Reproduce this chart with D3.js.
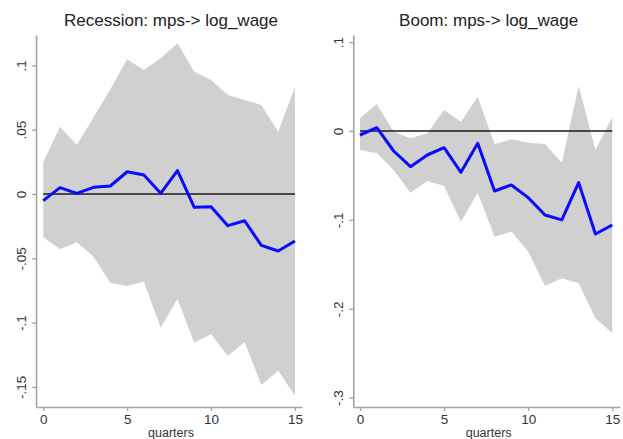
<!DOCTYPE html>
<html>
<head>
<meta charset="utf-8">
<script src="https://cdn.jsdelivr.net/npm/d3@7"></script>
<style>
	body { margin: 0; background: #fff; }
	svg { font-family: "Liberation Sans", Arial, sans-serif; }
</style>
</head>
<body>
<svg id="chart" width="623" height="439"></svg>
<script>
//Data
const QUARTERS = [0, 1, 2, 3, 4, 5, 6, 7, 8, 9, 10, 11, 12, 13, 14, 15];
const X_TICKS = [0, 5, 10, 15];

const REC_IRF = [-0.0052, 0.0049, 0.0005, 0.0052, 0.0062, 0.0173, 0.0148, 0.0005, 0.0181, -0.0104, -0.0099, -0.0246, -0.0208, -0.0400, -0.0443, -0.0365];
const REC_UPPER = [0.0246, 0.0523, 0.0381, 0.0596, 0.0814, 0.1047, 0.0964, 0.1055, 0.1171, 0.0951, 0.0886, 0.0770, 0.0731, 0.0692, 0.0484, 0.0830];
const REC_LOWER = [-0.0337, -0.0430, -0.0376, -0.0487, -0.0690, -0.0715, -0.0682, -0.1039, -0.0816, -0.1156, -0.1089, -0.1257, -0.1153, -0.1485, -0.1374, -0.1568];
const REC_Y_TICKS = [0.1, 0.05, 0, -0.05, -0.1, -0.15];
const REC_Y_LABELS = [".1", ".05", "0", "-.05", "-.1", "-.15"];

const BOOM_IRF = [-0.0045, 0.0037, -0.0225, -0.0401, -0.0270, -0.0188, -0.0465, -0.0139, -0.0675, -0.0607, -0.0750, -0.0945, -0.1000, -0.0581, -0.1159, -0.1057];
const BOOM_UPPER = [0.0143, 0.0304, -0.0008, -0.0082, -0.0026, 0.0236, 0.0105, 0.0386, -0.0150, -0.0093, -0.0131, -0.0146, -0.0356, 0.0506, -0.0214, 0.0154];
const BOOM_LOWER = [-0.0214, -0.0251, -0.0439, -0.0694, -0.0562, -0.0619, -0.1020, -0.0694, -0.1189, -0.1132, -0.1357, -0.1744, -0.1657, -0.1713, -0.2107, -0.2276];
const BOOM_Y_TICKS = [0.1, 0, -0.1, -0.2, -0.3];
const BOOM_Y_LABELS = [".1", "0", "-.1", "-.2", "-.3"];

const AXIS_COLOR = "#a3a3a3";
const BAND_COLOR = "#d0d0d0";
const LINE_COLOR = "#0a0aff";

//Methods
function make_rows(irf, upper, lower) {
	return QUARTERS.map((q, i) => ({ q: q, irf: irf[i], hi: upper[i], lo: lower[i] }));
}

function drawPanel(svg, opts) {
	const data = make_rows(opts.irf, opts.upper, opts.lower);
	const g = svg.append("g");

	var xScale = d3.scaleLinear().domain(opts.xDomain).range([opts.left, opts.right]);
	var yScale = d3.scaleLinear().domain(opts.yDomain).range([opts.bottom, opts.top]);

	// confidence band
	g.append("path")
		.datum(data)
		.attr("fill", BAND_COLOR)
		.attr("d", d3.area()
			.x(d => xScale(d.q))
			.y0(d => yScale(d.lo))
			.y1(d => yScale(d.hi)));

	// zero line
	g.append("line")
		.attr("x1", xScale(QUARTERS[0]))
		.attr("x2", xScale(QUARTERS[QUARTERS.length - 1]))
		.attr("y1", yScale(0))
		.attr("y2", yScale(0))
		.attr("stroke", "#1a1a1a")
		.attr("stroke-width", 1.3);

	// irf line
	g.append("path")
		.datum(data)
		.attr("fill", "none")
		.attr("stroke", LINE_COLOR)
		.attr("stroke-width", 3)
		.attr("stroke-linejoin", "round")
		.attr("d", d3.line().x(d => xScale(d.q)).y(d => yScale(d.irf)));

	// y axis
	var yAxis = g.append("g")
		.attr("transform", "translate(" + opts.left + ",0)")
		.call(d3.axisLeft(yScale).tickValues(opts.yTicks).tickSize(4).tickSizeOuter(0)
			.tickFormat((d, i) => opts.yLabels[i]));
	yAxis.select(".domain").attr("stroke", AXIS_COLOR).attr("stroke-width", 1.6);
	yAxis.selectAll(".tick line").attr("stroke", AXIS_COLOR).attr("stroke-width", 1.3);
	yAxis.selectAll(".tick text")
		.attr("x", null).attr("dy", null)
		.attr("transform", "translate(-10.5,0) rotate(-90)")
		.attr("text-anchor", "middle")
		.attr("font-size", "13.5px")
		.attr("fill", "#333");

	// x axis
	var xAxis = g.append("g")
		.attr("transform", "translate(0," + opts.bottom + ")")
		.call(d3.axisBottom(xScale).tickValues(X_TICKS).tickSize(4).tickSizeOuter(0));
	xAxis.select(".domain").attr("stroke", AXIS_COLOR).attr("stroke-width", 1.6);
	xAxis.selectAll(".tick line").attr("stroke", AXIS_COLOR).attr("stroke-width", 1.3);
	xAxis.selectAll(".tick text")
		.attr("y", 7)
		.attr("font-size", "13.5px")
		.attr("fill", "#333");

	// title and axis label
	var cx = (opts.left + opts.right) / 2 + 2;
	g.append("text")
		.attr("x", cx)
		.attr("y", 26)
		.attr("text-anchor", "middle")
		.attr("font-size", "17px")
		.attr("fill", "#222")
		.text(opts.title);

	g.append("text")
		.attr("x", cx)
		.attr("y", 437)
		.attr("text-anchor", "middle")
		.attr("font-size", "12.5px")
		.attr("fill", "#333")
		.text("quarters");
}

const svg = d3.select("#chart");

drawPanel(svg, {
	title: "Recession: mps-> log_wage",
	irf: REC_IRF, upper: REC_UPPER, lower: REC_LOWER,
	yTicks: REC_Y_TICKS, yLabels: REC_Y_LABELS,
	xDomain: [-0.43, 15.42], yDomain: [-0.1656, 0.1236],
	left: 36, right: 302, top: 35, bottom: 407
});

drawPanel(svg, {
	title: "Boom: mps-> log_wage",
	irf: BOOM_IRF, upper: BOOM_UPPER, lower: BOOM_LOWER,
	yTicks: BOOM_Y_TICKS, yLabels: BOOM_Y_LABELS,
	xDomain: [-0.40, 15.46], yDomain: [-0.3105, 0.108],
	left: 353.3, right: 620, top: 35, bottom: 407
});
</script>
</body>
</html>
